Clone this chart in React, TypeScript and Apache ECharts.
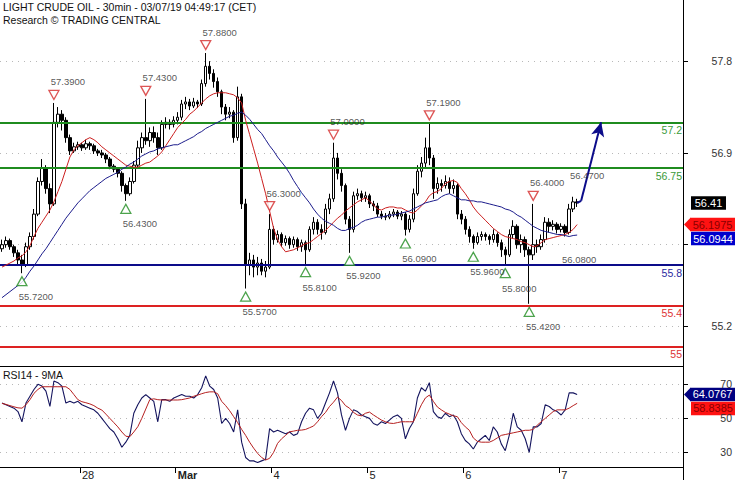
import React, { useEffect, useRef } from "react";
import * as echarts from "echarts";

// ---------- data ----------
const DAY_KEYS = ["28", "Mar", "4", "5", "6", "7", "8"];
const LABELLED_DAYS = 6; // days that carry a label on the time axis (28 .. 7)
const FIRST_DAY_INDEX = 20; // slot where Feb 28 00:00 starts (first slot = Feb 27 04:00)
const BARS_PER_DAY = 24;
const TOTAL_SLOTS = 171;

// [open, close, low, high]
const ohlc: number[][] = [
  [55.96, 56.0, 55.93, 56.05], [56.0, 56.04, 55.97, 56.08], [56.04, 55.98, 55.95, 56.06], [55.98, 55.92, 55.88, 56.0],
  [55.92, 55.85, 55.8, 55.95], [55.85, 55.8, 55.72, 55.9], [55.8, 55.98, 55.78, 56.02], [55.98, 56.08, 55.95, 56.12],
  [56.08, 56.3, 56.05, 56.35], [56.3, 56.62, 56.28, 56.66], [56.62, 56.75, 56.58, 56.84], [56.75, 56.55, 56.5, 56.78],
  [56.55, 56.4, 56.31, 56.6], [56.4, 57.2, 56.38, 57.39], [57.2, 57.28, 57.15, 57.35], [57.28, 57.22, 57.12, 57.32],
  [57.22, 57.05, 57.0, 57.25], [57.05, 56.92, 56.88, 57.08], [56.92, 56.96, 56.9, 57.0], [56.96, 56.98, 56.93, 57.01],
  [56.98, 56.95, 56.92, 57.0], [56.95, 56.99, 56.93, 57.03], [56.99, 56.97, 56.93, 57.01], [56.97, 56.92, 56.89, 56.99],
  [56.92, 56.9, 56.87, 56.94], [56.9, 56.88, 56.85, 56.93], [56.88, 56.84, 56.8, 56.9], [56.84, 56.77, 56.74, 56.86],
  [56.77, 56.74, 56.71, 56.79], [56.74, 56.7, 56.66, 56.76], [56.7, 56.58, 56.52, 56.72], [56.58, 56.5, 56.43, 56.6],
  [56.5, 56.62, 56.48, 56.66], [56.62, 56.78, 56.6, 56.82], [56.78, 56.95, 56.76, 57.02], [56.95, 57.05, 56.9, 57.1],
  [57.05, 57.02, 56.98, 57.43], [57.02, 57.1, 56.96, 57.15], [57.1, 57.05, 57.0, 57.16], [57.05, 56.95, 56.88, 57.1],
  [56.95, 57.18, 56.93, 57.22], [57.18, 57.2, 57.14, 57.25], [57.2, 57.18, 57.13, 57.23], [57.18, 57.22, 57.15, 57.26],
  [57.22, 57.25, 57.18, 57.3], [57.25, 57.38, 57.22, 57.42], [57.38, 57.4, 57.33, 57.45], [57.4, 57.36, 57.32, 57.43],
  [57.36, 57.4, 57.34, 57.44], [57.4, 57.38, 57.34, 57.42], [57.38, 57.58, 57.36, 57.62], [57.58, 57.75, 57.55, 57.88],
  [57.75, 57.68, 57.62, 57.8], [57.68, 57.6, 57.54, 57.72], [57.6, 57.5, 57.45, 57.64], [57.5, 57.35, 57.28, 57.52],
  [57.35, 57.28, 57.22, 57.38], [57.28, 57.3, 57.24, 57.35], [57.3, 57.05, 57.0, 57.32], [57.05, 57.45, 57.02, 57.55],
  [57.45, 56.4, 56.35, 57.48], [56.4, 55.8, 55.57, 56.45], [55.8, 55.85, 55.7, 55.92], [55.85, 55.78, 55.68, 55.9],
  [55.78, 55.82, 55.7, 55.88], [55.82, 55.74, 55.7, 55.86], [55.74, 55.78, 55.68, 55.84], [55.78, 56.15, 55.76, 56.3],
  [56.15, 56.05, 56.0, 56.18], [56.05, 56.1, 56.02, 56.14], [56.1, 56.02, 55.98, 56.12], [56.02, 56.06, 55.99, 56.09],
  [56.06, 56.0, 55.96, 56.08], [56.0, 56.05, 55.97, 56.08], [56.05, 55.98, 55.94, 56.07], [55.98, 56.02, 55.93, 56.05],
  [56.02, 55.95, 55.81, 56.04], [55.95, 56.15, 55.93, 56.18], [56.15, 56.22, 56.1, 56.27], [56.22, 56.15, 56.1, 56.25],
  [56.15, 56.12, 56.05, 56.2], [56.12, 56.35, 56.1, 56.4], [56.35, 56.45, 56.3, 56.5], [56.45, 56.85, 56.42, 57.0],
  [56.85, 56.7, 56.64, 56.9], [56.7, 56.58, 56.52, 56.74], [56.58, 56.25, 56.2, 56.6], [56.25, 56.15, 55.92, 56.28],
  [56.15, 56.48, 56.12, 56.52], [56.48, 56.5, 56.44, 56.55], [56.5, 56.46, 56.42, 56.53], [56.46, 56.48, 56.42, 56.52],
  [56.48, 56.4, 56.36, 56.5], [56.4, 56.38, 56.33, 56.43], [56.38, 56.3, 56.27, 56.41], [56.3, 56.28, 56.25, 56.33],
  [56.28, 56.27, 56.24, 56.31], [56.27, 56.3, 56.25, 56.33], [56.3, 56.32, 56.27, 56.35], [56.32, 56.28, 56.25, 56.34],
  [56.28, 56.3, 56.24, 56.33], [56.3, 56.15, 56.09, 56.32], [56.15, 56.25, 56.12, 56.29], [56.25, 56.5, 56.22, 56.55],
  [56.5, 56.72, 56.48, 56.78], [56.72, 56.8, 56.66, 56.86], [56.8, 56.95, 56.76, 57.05], [56.95, 56.85, 56.78, 57.19],
  [56.85, 56.55, 56.45, 56.88], [56.55, 56.6, 56.5, 56.66], [56.6, 56.58, 56.52, 56.64], [56.58, 56.62, 56.55, 56.68],
  [56.62, 56.55, 56.5, 56.66], [56.55, 56.58, 56.5, 56.64], [56.58, 56.3, 56.25, 56.6], [56.3, 56.25, 56.2, 56.34],
  [56.25, 56.15, 56.1, 56.28], [56.15, 56.08, 56.02, 56.18], [56.08, 56.02, 55.96, 56.1], [56.02, 56.08, 56.0, 56.12],
  [56.08, 56.1, 56.04, 56.13], [56.1, 56.08, 56.04, 56.12], [56.08, 56.05, 56.0, 56.1], [56.05, 56.1, 56.02, 56.15],
  [56.1, 56.02, 55.98, 56.12], [56.02, 55.95, 55.88, 56.05], [55.95, 55.9, 55.8, 55.98], [55.9, 56.1, 55.88, 56.15],
  [56.1, 56.18, 56.06, 56.24], [56.18, 56.0, 55.96, 56.2], [56.0, 56.05, 55.92, 56.1], [56.05, 55.95, 55.88, 56.08],
  [55.95, 55.9, 55.42, 55.98], [55.9, 56.0, 55.85, 56.4], [56.0, 55.98, 55.92, 56.05], [55.98, 56.05, 55.95, 56.1],
  [56.05, 56.22, 56.02, 56.27], [56.22, 56.18, 56.12, 56.26], [56.18, 56.2, 56.14, 56.24], [56.2, 56.15, 56.11, 56.22],
  [56.15, 56.18, 56.12, 56.21], [56.18, 56.12, 56.08, 56.2], [56.12, 56.35, 56.1, 56.4], [56.35, 56.42, 56.32, 56.47],
  [56.42, 56.41, 56.37, 56.45],
];

const maFast = [
  55.78, 55.8, 55.82, 55.84, 55.87, 55.89, 55.93, 55.99, 56.08, 56.16, 56.22, 56.28, 56.34, 56.42, 56.52, 56.62,
  56.74, 56.86, 56.93, 56.97, 57.0, 57.03, 57.05, 57.03, 57.0, 56.96, 56.93, 56.9, 56.87, 56.84, 56.81, 56.78,
  56.77, 56.76, 56.76, 56.78, 56.8, 56.81, 56.84, 56.87, 56.91, 56.97, 57.03, 57.09, 57.15, 57.19, 57.23, 57.28,
  57.31, 57.35, 57.39, 57.43, 57.46, 57.48, 57.49, 57.49, 57.49, 57.48, 57.47, 57.44, 57.39, 57.22, 57.08, 56.94,
  56.8, 56.65, 56.5, 56.33, 56.16, 56.05, 55.98, 55.93, 55.94, 55.95, 55.97, 55.99, 56.01, 56.02, 56.05, 56.08,
  56.11, 56.14, 56.18, 56.22, 56.26, 56.29, 56.33, 56.36, 56.39, 56.42, 56.44, 56.46, 56.43, 56.39, 56.35, 56.34,
  56.36, 56.37, 56.37, 56.36, 56.36, 56.34, 56.32, 56.31, 56.34, 56.38, 56.42, 56.48, 56.51, 56.52, 56.55, 56.6,
  56.62, 56.63, 56.61, 56.55, 56.5, 56.44, 56.37, 56.32, 56.28, 56.24, 56.2, 56.16, 56.13, 56.1, 56.08, 56.07,
  56.06, 56.05, 56.03, 56.02, 56.0, 55.98, 55.99, 56.02, 56.05, 56.06, 56.07, 56.08, 56.09, 56.1, 56.12, 56.15,
  56.1975,
];

const maSlow = [
  55.48, 55.51, 55.54, 55.57, 55.6, 55.63, 55.68, 55.74, 55.79, 55.85, 55.91, 55.96, 56.02, 56.08, 56.14, 56.2,
  56.26, 56.31, 56.36, 56.41, 56.45, 56.49, 56.53, 56.56, 56.59, 56.62, 56.65, 56.67, 56.69, 56.71, 56.74, 56.76,
  56.79, 56.81, 56.84, 56.87, 56.89, 56.91, 56.92, 56.94, 56.95, 56.96, 56.97, 56.98, 56.98, 57.0, 57.02, 57.04,
  57.06, 57.09, 57.11, 57.14, 57.16, 57.18, 57.2, 57.22, 57.24, 57.26, 57.27, 57.29, 57.3, 57.27, 57.23, 57.18,
  57.13, 57.09, 57.03, 56.97, 56.92, 56.86, 56.81, 56.76, 56.7, 56.63, 56.57, 56.51, 56.46, 56.41, 56.35, 56.3,
  56.26, 56.23, 56.21, 56.19, 56.16, 56.14, 56.14, 56.16, 56.17, 56.19, 56.22, 56.24, 56.25, 56.26, 56.27, 56.27,
  56.28, 56.29, 56.29, 56.3, 56.31, 56.32, 56.33, 56.35, 56.37, 56.39, 56.41, 56.42, 56.43, 56.44, 56.47, 56.49,
  56.5, 56.48, 56.46, 56.44, 56.44, 56.43, 56.43, 56.42, 56.42, 56.41, 56.4, 56.39, 56.38, 56.37, 56.35, 56.34,
  56.32, 56.29, 56.27, 56.24, 56.21, 56.18, 56.16, 56.14, 56.13, 56.12, 56.11, 56.1, 56.1, 56.09, 56.08, 56.09,
  56.0944,
];

const rsi14 = [
  59, 58, 57, 56, 54, 48, 59, 63, 67, 70, 69, 66, 57, 72, 71, 69,
  59, 60, 59, 60, 58, 57, 56, 55, 53, 50, 47, 44, 42, 38, 33, 36,
  40, 53, 58, 62, 64, 62, 60, 48, 61, 61, 60, 62, 63, 64, 63, 63,
  62, 64, 68, 75, 69, 67, 62, 47, 50, 47, 42, 55, 36, 27, 25, 25,
  24, 25, 26, 44, 42, 43, 42, 41, 42, 40, 41, 48, 53, 56, 55, 50,
  53, 59, 65, 72, 65, 52, 43, 50, 55, 54, 52, 51, 50, 47, 46, 48,
  47, 49, 51, 52, 50, 38, 44, 48, 62, 68, 66, 71, 54, 51, 50, 53,
  51, 52, 48, 41, 37, 35, 32, 36, 38, 40, 37, 45, 42, 35, 31, 40,
  53, 45, 43, 38, 30, 45, 45, 47, 58, 57, 55, 54, 52, 55, 65, 65,
  64.0767,
];

const rsiMa9 = [
  58.8, 58.2, 57.5, 56.8, 56.2, 56.0, 58.0, 61.0, 64.7, 67.0, 68.6, 68.6, 68.6, 68.6, 68.6, 68.6,
  68.6, 67.0, 64.0, 61.0, 59.8, 59.2, 58.5, 57.5, 56.0, 54.9, 52.5, 50.0, 47.5, 45.0, 42.0, 39.5,
  39.2, 42.0, 45.1, 50.0, 55.5, 61.0, 61.5, 61.0, 60.8, 60.8, 60.8, 60.8, 60.8, 61.0, 61.5, 62.0,
  63.0, 63.7, 64.5, 65.2, 65.6, 65.6, 64.5, 60.0, 57.5, 54.5, 51.0, 47.5, 43.5, 40.0, 36.0, 32.5,
  29.4, 27.0, 25.5, 26.5, 30.0, 35.3, 38.0, 40.0, 42.1, 42.5, 43.0, 43.1, 43.5, 44.5, 45.5, 48.0,
  51.0, 53.5, 57.0, 59.5, 62.5, 60.5, 57.5, 56.0, 53.5, 52.0, 51.5, 53.0, 53.7, 52.0, 50.5, 49.0,
  48.0, 47.2, 47.0, 47.5, 48.0, 48.0, 48.0, 48.0, 53.0, 58.0, 62.0, 63.7, 60.0, 56.7, 55.0, 53.5,
  52.5, 51.5, 51.0, 47.5, 45.0, 43.0, 38.5, 36.5, 36.0, 36.0, 36.0, 37.0, 38.5, 40.0, 40.5, 41.0,
  41.5, 42.0, 42.5, 43.0, 43.0, 43.5, 46.0, 48.0, 50.0, 52.0, 54.0, 55.0, 55.0, 55.0, 56.0, 57.5,
  58.8385,
];

const resistanceLevels = [57.2, 56.75];
const pivotLevel = [55.8];
const supportLevels = [55.4, 55];

const pivotHighs = [[13, 57.39], [36, 57.43], [51, 57.88], [67, 56.3], [83, 57.0], [107, 57.19], [133, 56.4]];
const pivotLows = [[5, 55.72], [31, 56.43], [61, 55.57], [76, 55.81], [87, 55.92], [101, 56.09], [118, 55.96], [126, 55.8], [132, 55.42]];
const extraHighLabels = [[143, 56.47]];
const extraLowLabels = [[141, 56.08]];

const forecastPath = [[144, 56.41], [145, 56.43], [150, 57.2]];

const priceTicks = [57.8, 56.9, 56.0, 55.2];
const priceTickLabels = [57.8, 56.9, 55.2];
const rsiTicks = [30, 50, 70];

// ---------- helpers ----------
const FONT = '"Liberation Sans", Arial, Helvetica, sans-serif';
const GREEN = "#1f8c1f";
const NAVY = "#0c0c8a";
const RED = "#dd2222";

const categories: string[] = [];
for (let i = 0; i < TOTAL_SLOTS; i++) {
  let day: string;
  let hour: number;
  if (i < FIRST_DAY_INDEX) {
    day = "27";
    hour = 24 - FIRST_DAY_INDEX + i;
  } else {
    const k = i - FIRST_DAY_INDEX;
    day = DAY_KEYS[Math.floor(k / BARS_PER_DAY)];
    hour = k % BARS_PER_DAY;
  }
  categories.push(`${day} ${String(hour).padStart(2, "0")}:00`);
}
const isDayStart = (i: number) =>
  i >= FIRST_DAY_INDEX &&
  i < FIRST_DAY_INDEX + LABELLED_DAYS * BARS_PER_DAY &&
  (i - FIRST_DAY_INDEX) % BARS_PER_DAY === 0;

const staticGraphics: any[] = [
  { id: "t1", type: "text", left: 3, top: 1, z: 100, style: { text: "LIGHT CRUDE OIL - 30min - 03/07/19 04:49:17 (CET)", fill: "#111", font: `10.5px ${FONT}` } },
  { id: "t2", type: "text", left: 3, top: 14, z: 100, style: { text: "Research © TRADING CENTRAL", fill: "#111", font: `10.5px ${FONT}` } },
  { id: "t3", type: "text", left: 3, top: 369, z: 100, style: { text: "RSI14 - 9MA", fill: "#111", font: `10.5px ${FONT}` } },
  { id: "axext", type: "line", z: 100, shape: { x1: 683.5, y1: 467, x2: 683.5, y2: 480 }, style: { stroke: "#000", lineWidth: 1 } },
];

function levelLines(values: number[], color: string, textColor: string) {
  return values.map((v) => ({
    yAxis: v,
    lineStyle: { color, width: 2, type: "solid" },
    label: { show: true, position: "insideEndBottom", formatter: String(v), color: textColor, fontSize: 10.5, fontFamily: FONT, distance: [1, 2] },
  }));
}

function buildOption(): any {
  return {
    animation: false,
    backgroundColor: "#fff",
    grid: [
      { left: 0, right: 52, top: 0, height: 366, outerBoundsMode: "none" },
      { left: 0, right: 52, top: 366, height: 101, outerBoundsMode: "none" },
    ],
    xAxis: [
      {
        gridIndex: 0, type: "category", data: categories, boundaryGap: true,
        axisLine: { show: true, lineStyle: { color: "#000", width: 1 } },
        axisTick: { show: false }, axisLabel: { show: false }, splitLine: { show: false },
      },
      {
        gridIndex: 1, type: "category", data: categories, boundaryGap: true,
        axisLine: { show: true, lineStyle: { color: "#000", width: 1 } },
        axisTick: { show: true, interval: (i: number) => isDayStart(i), length: 6, lineStyle: { color: "#000" } },
        axisLabel: {
          show: true, interval: (i: number) => isDayStart(i), align: "left", margin: 2,
          fontSize: 11, fontFamily: FONT, color: "#222",
          formatter: (v: string) => {
            const d = v.split(" ")[0];
            return d === "Mar" ? "{b|Mar}" : d;
          },
          rich: { b: { fontWeight: "bold", fontSize: 11, fontFamily: FONT, color: "#222" } },
        },
        splitLine: { show: false },
      },
    ],
    yAxis: [
      {
        gridIndex: 0, type: "value", position: "right", min: 54.81, max: 58.4,
        axisLine: { show: true, lineStyle: { color: "#000" } },
        axisTick: { show: true, length: 5, customValues: priceTicks, lineStyle: { color: "#000" } },
        axisLabel: {
          show: true, customValues: priceTickLabels, align: "right", margin: 49,
          fontSize: 10.5, fontFamily: FONT, color: "#333", formatter: (v: number) => v.toFixed(1),
        },
        splitLine: { show: true, lineStyle: { color: "#b8b8b8", type: [1, 5], width: 1 } },
      },
      {
        gridIndex: 1, type: "value", position: "right", min: 21.4, max: 80.8,
        axisLine: { show: true, lineStyle: { color: "#000" } },
        axisTick: { show: true, length: 5, customValues: rsiTicks, lineStyle: { color: "#000" } },
        axisLabel: {
          show: true, customValues: rsiTicks, align: "right", margin: 49,
          fontSize: 10.5, fontFamily: FONT, color: "#333",
        },
        splitLine: { show: true, lineStyle: { color: "#b8b8b8", type: [1, 5], width: 1 } },
      },
    ],
    series: [
      {
        name: "price", type: "candlestick", xAxisIndex: 0, yAxisIndex: 0, data: ohlc, barWidth: 3,
        itemStyle: { color: "#fff", color0: "#000", borderColor: "#000", borderColor0: "#000", borderWidth: 1 },
        markLine: {
          silent: true, symbol: "none", z: 3,
          data: [
            ...levelLines(resistanceLevels, GREEN, "#3a9a3a"),
            ...levelLines(pivotLevel, NAVY, "#2a2aa0"),
            ...levelLines(supportLevels, RED, "#dd3333"),
          ],
        },
      },
      {
        name: "maFast", type: "line", xAxisIndex: 0, yAxisIndex: 0, data: maFast, showSymbol: false, symbol: "none",
        lineStyle: { color: "#cc1f1f", width: 1 }, z: 4,
      },
      {
        name: "maSlow", type: "line", xAxisIndex: 0, yAxisIndex: 0, data: maSlow, showSymbol: false, symbol: "none",
        lineStyle: { color: "#1c1c8c", width: 1 }, z: 4,
      },
      {
        name: "forecast", type: "line", xAxisIndex: 0, yAxisIndex: 0, data: [], symbol: "none",
        markLine: {
          silent: true, z: 6,
          lineStyle: { color: NAVY, width: 2, type: "solid" },
          label: { show: false },
          data: forecastPath.slice(1).map((p, k) => [
            { coord: forecastPath[k], symbol: "none" },
            { coord: p, symbol: k === forecastPath.length - 2 ? "arrow" : "none", symbolSize: [10, 14] },
          ]),
        },
      },
      {
        name: "highMarks", type: "scatter", xAxisIndex: 0, yAxisIndex: 0, data: pivotHighs,
        symbol: "triangle", symbolRotate: 180, symbolSize: [10, 9], symbolOffset: [0, -8], z: 7,
        itemStyle: { color: "#fff", borderColor: "#d42a2a", borderWidth: 1.3 },
      },
      {
        name: "lowMarks", type: "scatter", xAxisIndex: 0, yAxisIndex: 0, data: pivotLows,
        symbol: "triangle", symbolSize: [10, 9], symbolOffset: [0, 8], z: 7,
        itemStyle: { color: "#fff", borderColor: GREEN, borderWidth: 1.3 },
      },
      {
        name: "highLabels", type: "scatter", xAxisIndex: 0, yAxisIndex: 0, data: [...pivotHighs, ...extraHighLabels],
        symbol: "circle", symbolSize: 0, z: 8,
        label: { show: true, position: "inside", offset: [14, -21], color: "#2a2a2a", fontSize: 9.5, fontFamily: FONT, formatter: (p: any) => p.value[1].toFixed(4) },
      },
      {
        name: "lowLabels", type: "scatter", xAxisIndex: 0, yAxisIndex: 0, data: [...pivotLows, ...extraLowLabels],
        symbol: "circle", symbolSize: 0, z: 8,
        label: { show: true, position: "inside", offset: [14, 23], color: "#2a2a2a", fontSize: 9.5, fontFamily: FONT, formatter: (p: any) => p.value[1].toFixed(4) },
      },
      {
        name: "rsi", type: "line", xAxisIndex: 1, yAxisIndex: 1, data: rsi14, showSymbol: false, symbol: "none",
        lineStyle: { color: "#14145e", width: 1.1 },
      },
      {
        name: "rsiMa", type: "line", xAxisIndex: 1, yAxisIndex: 1, data: rsiMa9, showSymbol: false, symbol: "none",
        lineStyle: { color: "#b52020", width: 1 },
      },
    ],
    graphic: staticGraphics,
  };
}

function valueBox(id: string, left: number, cy: number, width: number, fill: string, textColor: string, text: string, arrow: boolean) {
  const h = 13.5;
  const children: any[] = [
    { type: "rect", shape: { x: left, y: cy - h / 2, width, height: h }, style: { fill } },
  ];
  if (arrow) {
    children.push({ type: "polygon", shape: { points: [[left - 6, cy], [left + 0.5, cy - h / 2], [left + 0.5, cy + h / 2]] }, style: { fill } });
  }
  children.push({
    type: "text", x: left + width / 2, y: cy,
    style: { text, fill: textColor, font: `11px ${FONT}`, align: "center", verticalAlign: "middle", textAlign: "center", textVerticalAlign: "middle" },
  });
  return { id, type: "group", z: 120, children };
}

export default function App() {
  const ref = useRef<HTMLDivElement>(null);
  useEffect(() => {
    if (!ref.current) return;
    const chart = echarts.init(ref.current, null, { renderer: "svg" });
    chart.setOption(buildOption());

    const last = ohlc.length - 1;
    const lastClose = ohlc[last][1];
    const py = (v: number) => chart.convertToPixel({ yAxisIndex: 0 } as any, v) as number;
    const ry = (v: number) => chart.convertToPixel({ yAxisIndex: 1 } as any, v) as number;

    const yClose = py(lastClose);
    const yFast = py(maFast[last]);
    const ySlow = Math.max(py(maSlow[last]), yFast + 14);
    const yRsi = ry(rsi14[last]);
    const yRsiMa = Math.max(ry(rsiMa9[last]), yRsi + 14);

    const boxes = [
      valueBox("bClose", 691, yClose, 35, "#000", "#fff", lastClose.toFixed(2), false),
      valueBox("bFast", 690, yFast, 45, "#ff1212", "#8a0000", maFast[last].toFixed(4), true),
      valueBox("bSlow", 691, ySlow, 44, "#0000cc", "#fff", maSlow[last].toFixed(4), false),
      valueBox("bRsi", 690, yRsi, 45, "#000080", "#fff", rsi14[last].toFixed(4), true),
      valueBox("bRsiMa", 691, yRsiMa, 44, "#ff1212", "#8a0000", rsiMa9[last].toFixed(4), false),
    ];
    chart.setOption({ graphic: [...staticGraphics, ...boxes] });

    return () => chart.dispose();
  }, []);
  return <div ref={ref} style={{ position: "fixed", left: 0, top: 0, width: 735, height: 480, background: "#fff" }} />;
}
